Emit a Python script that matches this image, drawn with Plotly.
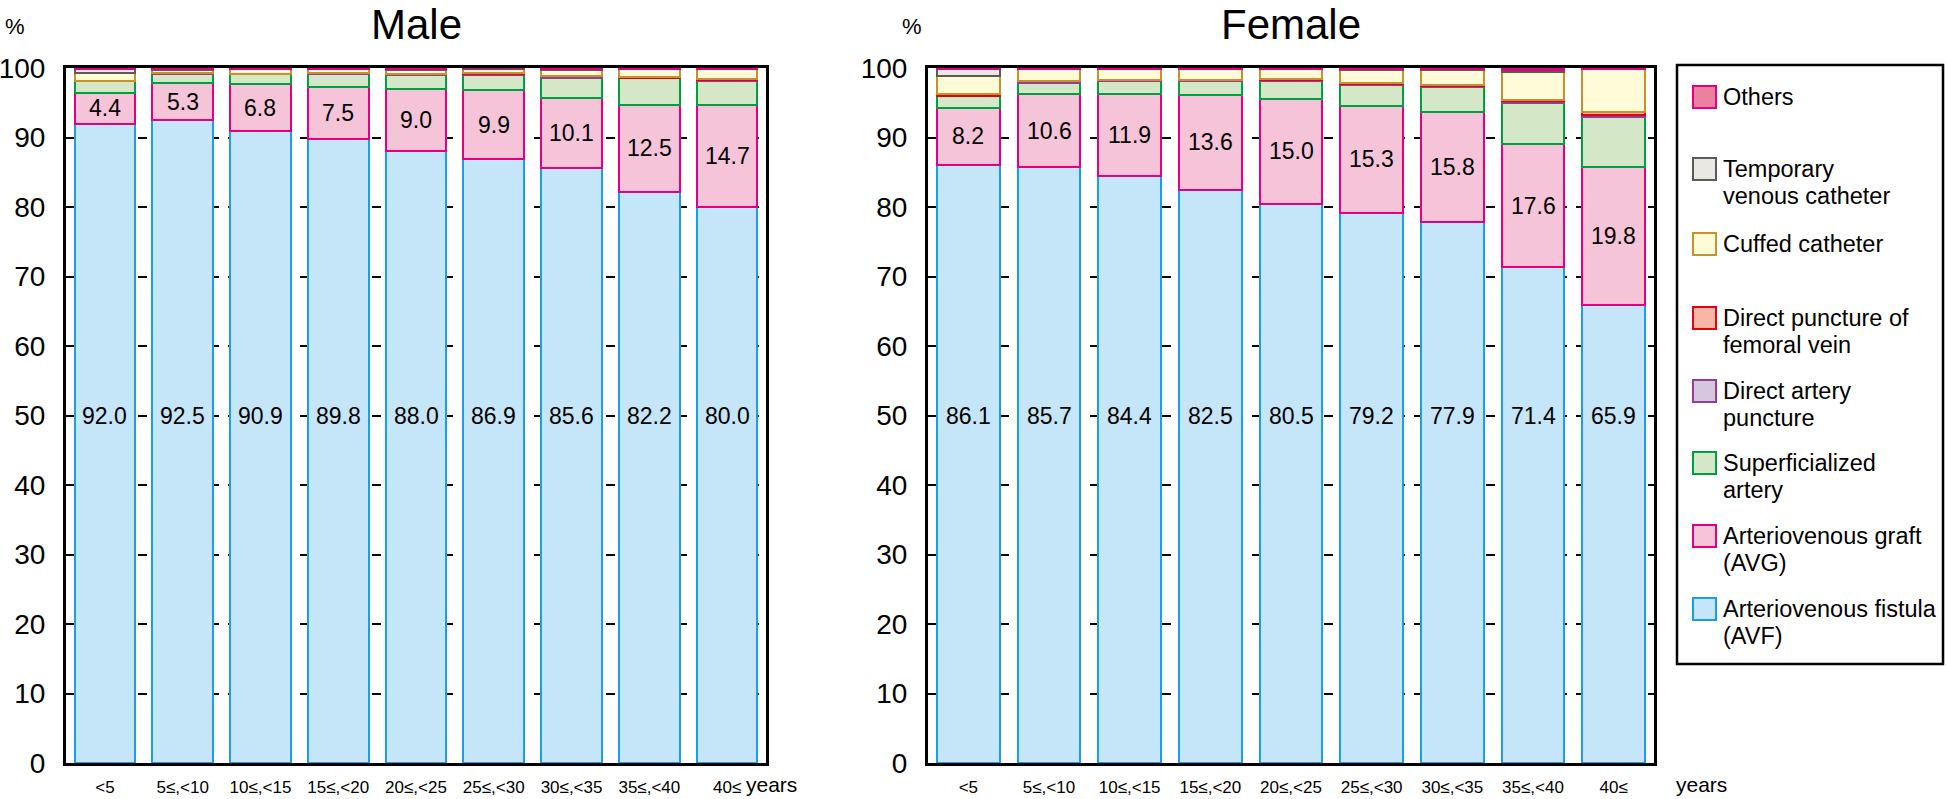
import plotly.graph_objects as go

W, H = 1946, 799

categories = ["<5", "5≤,<10", "10≤,<15", "15≤,<20", "20≤,<25", "25≤,<30", "30≤,<35", "35≤,<40", "40≤"]

series_names = ["Arteriovenous fistula (AVF)", "Arteriovenous graft (AVG)", "Superficialized artery",
                "Direct artery puncture", "Direct puncture of femoral vein", "Cuffed catheter",
                "Temporary venous catheter", "Others"]

male_avf = [92.0, 92.5, 90.9, 89.8, 88.0, 86.9, 85.6, 82.2, 80.0]
male_avg = [4.4, 5.3, 6.8, 7.5, 9.0, 9.9, 10.1, 12.5, 14.7]
male_sup = [1.7, 1.4, 1.4, 1.9, 2.0, 2.2, 2.9, 3.8, 3.5]
male_dap = [0.1, 0.1, 0.1, 0.1, 0.1, 0.2, 0.2, 0.1, 0.1]
male_fem = [0.0, 0.0, 0.0, 0.0, 0.1, 0.1, 0.1, 0.1, 0.1]
male_cuf = [1.1, 0.4, 0.6, 0.5, 0.5, 0.6, 0.8, 1.1, 1.4]
male_tmp = [0.5, 0.2, 0.1, 0.1, 0.1, 0.1, 0.2, 0.1, 0.0]
male_oth = [0.2, 0.1, 0.1, 0.1, 0.2, 0.1, 0.1, 0.1, 0.2]

female_avf = [86.1, 85.7, 84.4, 82.5, 80.5, 79.2, 77.9, 71.4, 65.9]
female_avg = [8.2, 10.6, 11.9, 13.6, 15.0, 15.3, 15.8, 17.6, 19.8]
female_sup = [1.7, 1.6, 1.9, 2.1, 2.7, 3.1, 3.5, 6.0, 7.3]
female_dap = [0.0, 0.2, 0.1, 0.1, 0.1, 0.1, 0.2, 0.2, 0.3]
female_fem = [0.2, 0.0, 0.0, 0.0, 0.1, 0.2, 0.2, 0.2, 0.3]
female_cuf = [2.7, 1.7, 1.5, 1.5, 1.4, 1.8, 2.1, 4.0, 6.2]
female_tmp = [0.9, 0.1, 0.1, 0.1, 0.1, 0.1, 0.1, 0.3, 0.0]
female_oth = [0.2, 0.1, 0.1, 0.1, 0.1, 0.2, 0.2, 0.3, 0.2]

y_ticks = [0, 10, 20, 30, 40, 50, 60, 70, 80, 90, 100]

fills = ["#c4e6f8", "#f6c4d9", "#d4e8c8", "#d6c6de", "#f6b8a4", "#fffbd8", "#e9e9e2", "#ec80a0"]
edges = ["#1aa0e2", "#e4007f", "#00a040", "#923f98", "#e60012", "#c8922a", "#5a5a5a", "#e4007f"]

FONT = "Liberation Sans, Arial, sans-serif"

male = [male_avf, male_avg, male_sup, male_dap, male_fem, male_cuf, male_tmp, male_oth]
female = [female_avf, female_avg, female_sup, female_dap, female_fem, female_cuf, female_tmp, female_oth]

fig = go.Figure()
for data, xa, ya in [(male, "x", "y"), (female, "x2", "y2")]:
    for i, vals in enumerate(data):
        fig.add_trace(go.Bar(
            x=categories, y=[v if v > 0 else None for v in vals], name=series_names[i],
            xaxis=xa, yaxis=ya, showlegend=False,
            marker=dict(color=fills[i], line=dict(color=edges[i], width=2)),
            hoverinfo="name+y"))

annotations = []
for data, xr, yr in [(male, "x", "y"), (female, "x2", "y2")]:
    avf, avg = data[0], data[1]
    for c, a, g in zip(categories, avf, avg):
        annotations.append(dict(x=c, y=50, xref=xr, yref=yr, text=f"{a:.1f}", showarrow=False,
                                font=dict(family=FONT, size=23, color="black")))
        annotations.append(dict(x=c, y=a + g / 2, xref=xr, yref=yr, text=f"{g:.1f}", showarrow=False,
                                font=dict(family=FONT, size=23, color="black")))

def px(x):
    return x / W

def py(y):
    return 1 - y / H

# titles and units
for txt, x in [("Male", 416), ("Female", 1291)]:
    annotations.append(dict(x=px(x), y=1, xref="paper", yref="paper", text=txt, showarrow=False,
                            xanchor="center", yanchor="top", borderpad=0,
                            font=dict(family=FONT, size=42, color="black")))
for x in [15, 912]:
    annotations.append(dict(x=px(x), y=py(27), xref="paper", yref="paper", text="%", showarrow=False,
                            xanchor="center", yanchor="middle", font=dict(family=FONT, size=22, color="black")))
for x in [771, 1701]:
    annotations.append(dict(x=px(x), y=py(784), xref="paper", yref="paper", text="years", showarrow=False,
                            xanchor="center", yanchor="middle", font=dict(family=FONT, size=21, color="black")))

# legend (drawn manually)
shapes = [dict(type="rect", xref="paper", yref="paper", x0=px(1677), x1=px(1943), y0=py(664), y1=py(65),
               line=dict(color="black", width=2.5), fillcolor="rgba(0,0,0,0)")]
legend_items = [
    (7, ["Others"], 97),
    (6, ["Temporary", "venous catheter"], 169),
    (5, ["Cuffed catheter"], 244),
    (4, ["Direct puncture of", "femoral vein"], 318),
    (3, ["Direct artery", "puncture"], 391),
    (2, ["Superficialized", "artery"], 463),
    (1, ["Arteriovenous graft", "(AVG)"], 536),
    (0, ["Arteriovenous fistula", "(AVF)"], 609),
]
for idx, lines, yc in legend_items:
    shapes.append(dict(type="rect", xref="paper", yref="paper", x0=px(1693), x1=px(1716),
                       y0=py(yc + 11), y1=py(yc - 11), fillcolor=fills[idx],
                       line=dict(color=edges[idx], width=2)))
    for k, ln in enumerate(lines):
        annotations.append(dict(x=px(1721), y=py(yc + 27 * k), xref="paper", yref="paper", text=ln,
                                showarrow=False, xanchor="left", yanchor="middle",
                                font=dict(family=FONT, size=23.5, color="black")))

yax = dict(range=[0, 100], tickvals=y_ticks, showgrid=True, gridcolor="black", griddash="dash", gridwidth=1.5,
           showline=True, linecolor="black", linewidth=3, mirror=True, zeroline=False, automargin=False,
           ticks="outside", ticklen=12, tickcolor="rgba(0,0,0,0)",
           tickfont=dict(family=FONT, size=28, color="black"), domain=[py(763), py(68)])
xax = dict(showline=True, linecolor="black", linewidth=3, mirror=True, showgrid=False, automargin=False,
           ticks="outside", ticklen=7, tickcolor="rgba(0,0,0,0)", tickangle=0,
           tickfont=dict(family=FONT, size=17, color="black"))

fig.update_layout(
    width=W, height=H, barmode="stack", bargap=0.22,
    margin=dict(l=0, r=0, t=0, b=0, pad=0, autoexpand=False),
    paper_bgcolor="white", plot_bgcolor="white",
    xaxis=dict(xax, domain=[px(66), px(766)]),
    xaxis2=dict(xax, domain=[px(928), px(1654)], anchor="y2"),
    yaxis=dict(yax, anchor="x"),
    yaxis2=dict(yax, anchor="x2"),
    annotations=annotations, shapes=shapes,
    font=dict(family=FONT, color="black"),
)

fig.write_html("out.html", config={"displayModeBar": False},
               post_script="document.body.style.margin='0';document.body.style.overflow='hidden';")
